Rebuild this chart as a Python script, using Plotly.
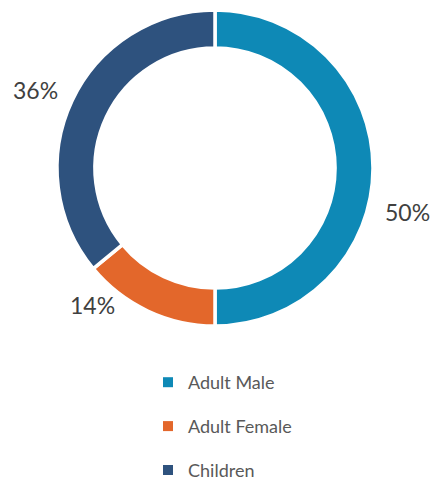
import plotly.graph_objects as go

categories = ["Adult Male", "Adult Female", "Children"]
values = [50, 14, 36]
colors = ["#0E89B6", "#E3672B", "#2E527E"]
label_pos = [(407, 212), (92, 305), (35, 90)]  # screen pixel positions of outside labels

OFF = 0  # body margin removed via post_script
W, H = 442, 481

def fx(px):
    return (px - OFF) / W

def fy(py):
    return 1 - (py - OFF) / H

fig = go.Figure()
fig.add_trace(go.Pie(
    labels=categories, values=values, sort=False, direction="clockwise", rotation=0,
    hole=0.76, marker=dict(colors=colors, line=dict(color="white", width=3.5)),
    textinfo="none", hoverinfo="label+percent", showlegend=False,
    domain=dict(x=[fx(57), fx(373)], y=[fy(326), fy(10)]),
))

total = sum(values)
for v, (px, py) in zip(values, label_pos):
    fig.add_annotation(x=fx(px), y=fy(py), xref="paper", yref="paper",
                       xanchor="center", yanchor="middle",
                       text=f"{round(100 * v / total)}%", showarrow=False,
                       font=dict(family="Lato", size=23, color="#404040"))

for i, (c, col) in enumerate(zip(categories, colors)):
    fig.add_trace(go.Scatter(x=[None], y=[None], mode="markers", name=c,
                             legendgroup=f"g{i}",
                             marker=dict(symbol="square", size=10, color=col)))

fig.update_layout(
    width=W, height=H, margin=dict(l=0, r=0, t=0, b=0, autoexpand=False),
    paper_bgcolor="white", plot_bgcolor="white",
    xaxis=dict(visible=False), yaxis=dict(visible=False),
    legend=dict(x=fx(148), y=fy(364), xanchor="left", yanchor="top",
                font=dict(family="Lato", size=18, color="#595959"),
                tracegroupgap=17.5, traceorder="grouped", itemclick=False),
)
fig.write_html("out.html", config={"displayModeBar": False},
               post_script="document.body.style.margin='0';document.body.style.overflow='hidden';")
